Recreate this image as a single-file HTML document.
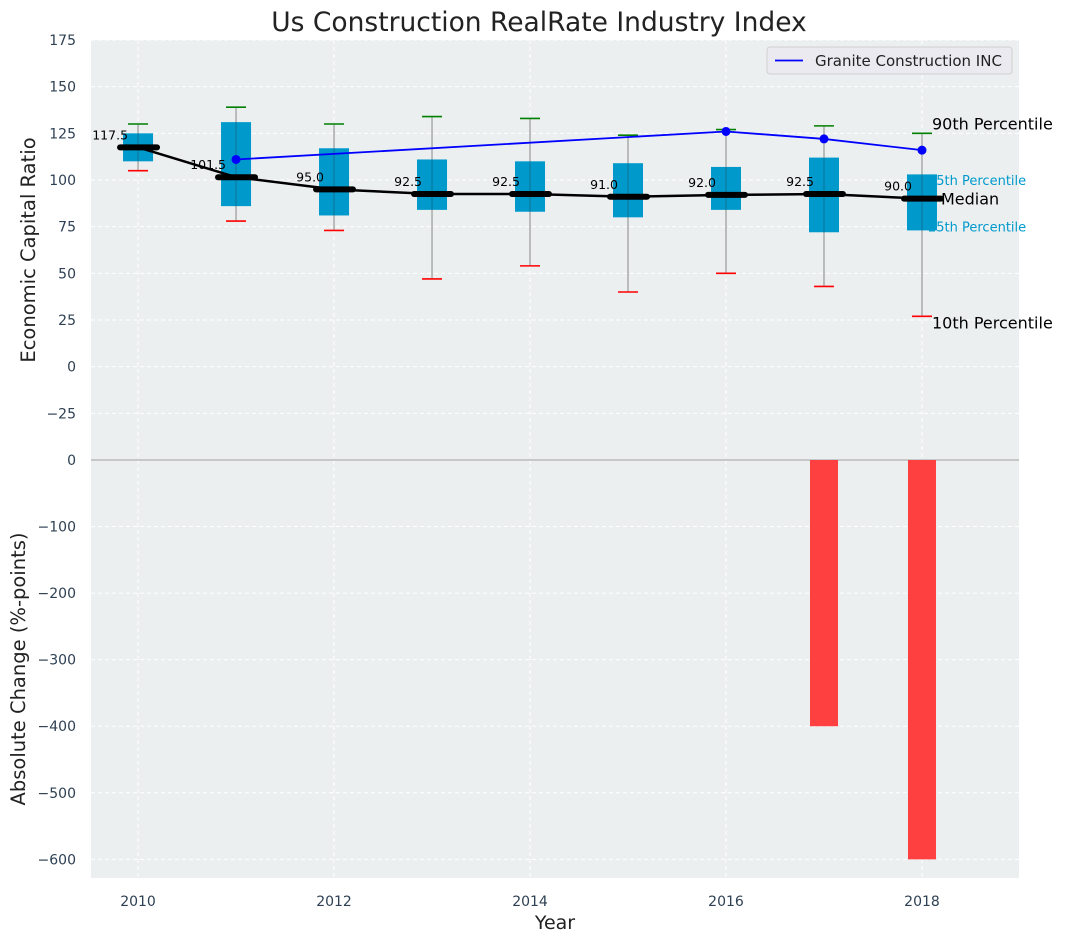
<!DOCTYPE html>
<html><head><meta charset="utf-8"><style>
body{margin:0;background:#fff;font-family:"DejaVu Sans","Liberation Sans",sans-serif}
svg{display:block}
</style></head><body>
<svg id="c" width="1067" height="942" xmlns="http://www.w3.org/2000/svg"></svg>
<script>
const years=[2010,2011,2012,2013,2014,2015,2016,2017,2018];
const q1=[110,86,81,84,83,80,84,72,73];
const q3=[125,131,117,111,110,109,107,112,103];
const p10=[105,78,73,47,54,40,50,43,27];
const p90=[130,139,130,134,133,124,127,129,125];
const medians=[117.5,101.5,95.0,92.5,92.5,91.0,92.0,92.5,90.0];
const graniteYears=[2011,2016,2017,2018];
const graniteVals=[111,126,122,116];
const barYears=[2017,2018];
const barVals=[-400,-600];
const topTicks=[-25,0,25,50,75,100,125,150,175];
const botTicks=[-600,-500,-400,-300,-200,-100,0];
const xTicks=[2010,2012,2014,2016,2018];

const NS="http://www.w3.org/2000/svg";
const svg=document.getElementById('c');
function el(tag,attrs,parent){const e=document.createElementNS(NS,tag);for(const k in attrs)e.setAttribute(k,attrs[k]);(parent||svg).appendChild(e);return e;}
const L=91,R=1019,T1=40,B1=460,T2=460,B2=878;
const x=v=>L+(v-2009.52)/(2018.99-2009.52)*(R-L);
const y1=v=>T1+(175-v)/(175-(-50))*(B1-T1);
const y2=v=>T2+(0-v)/(0-(-628))*(B2-T2);

let bg=el('rect',{x:L,y:T1,width:R-L,height:B1-T1,fill:'#ebeff0'});

let bg2=el('rect',{x:L,y:T2,width:R-L,height:B2-T2,fill:'#ebeff0'});


const tc='#2e4053';
topTicks.forEach(t=>{const yy=y1(t);
 el('line',{x1:L,x2:R,y1:yy,y2:yy,stroke:'#fff','stroke-dasharray':'4,3','stroke-width':1});
 const tx=el('text',{x:L-15,y:yy+5,'text-anchor':'end','font-size':14,fill:tc});
 tx.textContent=t<0?'\u2212'+(-t):t;
 });
botTicks.forEach(t=>{const yy=y2(t);
 el('line',{x1:L,x2:R,y1:yy,y2:yy,stroke:'#fff','stroke-dasharray':'4,3','stroke-width':1});
 const tx=el('text',{x:L-15,y:yy+5,'text-anchor':'end','font-size':14,fill:tc});
 tx.textContent=t<0?'\u2212'+(-t):t;
 });
xTicks.forEach(t=>{const xx=x(t);
 el('line',{x1:xx,x2:xx,y1:T1,y2:B1,stroke:'#fff','stroke-dasharray':'4,3','stroke-width':1});
 el('line',{x1:xx,x2:xx,y1:T2,y2:B2,stroke:'#fff','stroke-dasharray':'4,3','stroke-width':1});
 const tx=el('text',{x:xx,y:B2+28,'text-anchor':'middle','font-size':14,fill:tc});
 tx.textContent=t;
 });

el('line',{x1:L,x2:R,y1:y2(0),y2:y2(0),stroke:'#b0b0b0','stroke-width':1.2});

barYears.forEach((yr,i)=>{const v=barVals[i];
 const r=el('rect',{x:x(yr)-14,y:y2(0),width:28,height:y2(v)-y2(0),fill:'#ff4040'});
 });

// annotations (drawn before boxes so last box overlaps them)
const last=years.length-1,ax=x(years[last]);
[['90th Percentile',ax+10,y1(p90[last])-4,16,'#000'],
 ['75th Percentile',ax+6,y1(q3[last]-3)+5,13,'#0099cc'],
 ['Median',ax+19,y1(medians[last])+6,16,'#000'],
 ['25th Percentile',ax+6,y1(q1[last]+2)+5,13,'#0099cc'],
 ['10th Percentile',ax+10,y1(p10[last])+12,16,'#000']].forEach(a=>{
 const t=el('text',{x:a[1],y:a[2],'font-size':a[3],fill:a[4]});t.textContent=a[0];
 });

years.forEach((yr,i)=>{const cx=x(yr);
 const w=el('line',{x1:cx,x2:cx,y1:y1(p10[i]),y2:y1(p90[i]),stroke:'#888','stroke-width':1});
 
 const b=el('rect',{x:cx-15,y:y1(q3[i]),width:30,height:y1(q1[i])-y1(q3[i]),fill:'#0099cc'});
 
 el('line',{x1:cx,x2:cx,y1:y1(q3[i]),y2:y1(q1[i]),stroke:'#1a5a70','stroke-width':1,opacity:0.6});
 const h=el('line',{x1:cx-10,x2:cx+10,y1:y1(p90[i]),y2:y1(p90[i]),stroke:'green','stroke-width':1.6});
 
 const lo=el('line',{x1:cx-10,x2:cx+10,y1:y1(p10[i]),y2:y1(p10[i]),stroke:'red','stroke-width':1.6});
 
});
const gp=graniteYears.map((yr,i)=>x(yr)+','+y1(graniteVals[i])).join(' ');
const gl=el('polyline',{points:gp,fill:'none',stroke:'#0000ff','stroke-width':1.8});

graniteYears.forEach((yr,i)=>{const c=el('circle',{cx:x(yr),cy:y1(graniteVals[i]),r:4.5,fill:'#0000ff'});
 });
const mp=years.map((yr,i)=>x(yr)+','+y1(medians[i])).join(' ');
const ml=el('polyline',{points:mp,fill:'none',stroke:'#000','stroke-width':2.5});

years.forEach((yr,i)=>{const cx=x(yr),yy=y1(medians[i]);
 const m=el('line',{x1:cx-18,x2:cx+19,y1:yy,y2:yy,stroke:'#000','stroke-width':6,'stroke-linecap':'round'});
 
 const t=el('text',{x:cx-10,y:yy-8,'text-anchor':'end','font-size':12.5,fill:'#000'});
 t.textContent=medians[i].toFixed(1);
 });

const lg=el('g',{});
el('rect',{x:767,y:47,width:245,height:27,rx:3,fill:'#eaeaf0',stroke:'#d0d0d0'},lg);
el('line',{x1:775,x2:803,y1:60.5,y2:60.5,stroke:'#0000ff','stroke-width':1.8},lg);
const lt=el('text',{x:815,y:66,'font-size':15,fill:'#222'},lg);lt.textContent='Granite Construction INC';

const ti=el('text',{x:539,y:31,'text-anchor':'middle','font-size':26.5,fill:'#222'});ti.textContent='Us Construction RealRate Industry Index';

const yt=el('text',{x:0,y:0,'text-anchor':'middle','font-size':19.5,fill:'#222',transform:'translate(35,250) rotate(-90)'});yt.textContent='Economic Capital Ratio';

const yb=el('text',{x:0,y:0,'text-anchor':'middle','font-size':19.5,fill:'#222',transform:'translate(25,669) rotate(-90)'});yb.textContent='Absolute Change (%-points)';

const xt=el('text',{x:555,y:929,'text-anchor':'middle','font-size':19,fill:'#222'});xt.textContent='Year';

</script>
</body></html>
